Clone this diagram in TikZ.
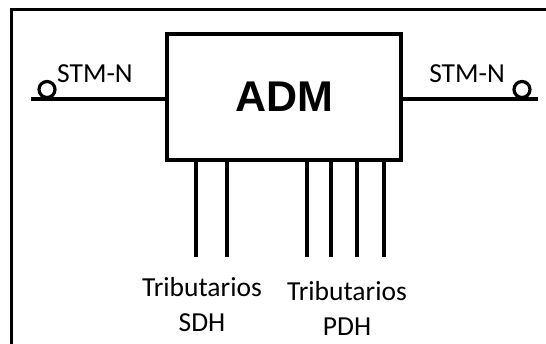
\documentclass[tikz,border=0pt]{standalone}
\usepackage{fontspec}
\setmainfont{Carlito}
\newfontfamily\admfont{Liberation Sans}
\usepackage{tikz}
\usetikzlibrary{arrows.meta,positioning,calc}

\begin{document}
\begin{tikzpicture}[
  x=1pt, y=-1pt,
  wire/.style={line width=3.5pt},
  block/.style={draw, line width=3.5pt, minimum width=234pt, minimum height=126pt,
    inner sep=0pt, font=\admfont\bfseries\fontsize{43}{43}\selectfont},
  port/.style={circle, draw, line width=3.2pt, minimum size=16pt, inner sep=0pt},
  lbl/.style={inner sep=0pt, font=\fontsize{27.5}{35}\selectfont},
  trib/.style={lbl, align=center, anchor=north}
]
  \useasboundingbox (0,0) rectangle (546,343);

  % Frame
  \draw[line width=3pt] (550,9) -- (11,9) -- (11,350);

  \node[block] (adm) at (284,97) {ADM};

  % STM-N lines
  \coordinate (inL) at (31,99);
  \coordinate (inR) at (538,99);
  \draw[wire] (inL) -- (inL -| adm.west);
  \draw[wire] (adm.east |- inR) -- (inR);
  \node[port] (portL) at (47,89.5) {};
  \node[port] (portR) at (522,89.5) {};
  \node[lbl, anchor=base west] (stmL) at (57,82) {STM-N};
  \node[lbl, anchor=base east] (stmR) at (505,82) {STM-N};

  % Tributaries
  \foreach \x in {196,227,307,331,357,384}{
    \coordinate (t\x) at (\x,257);
    \draw[wire] (t\x |- adm.south) -- (t\x);
  }
  \node[trib] (sdh) at (202,277) {Tributarios\\SDH};
  \node[trib] (pdh) at (347,281) {Tributarios\\PDH};
\end{tikzpicture}
\end{document}
